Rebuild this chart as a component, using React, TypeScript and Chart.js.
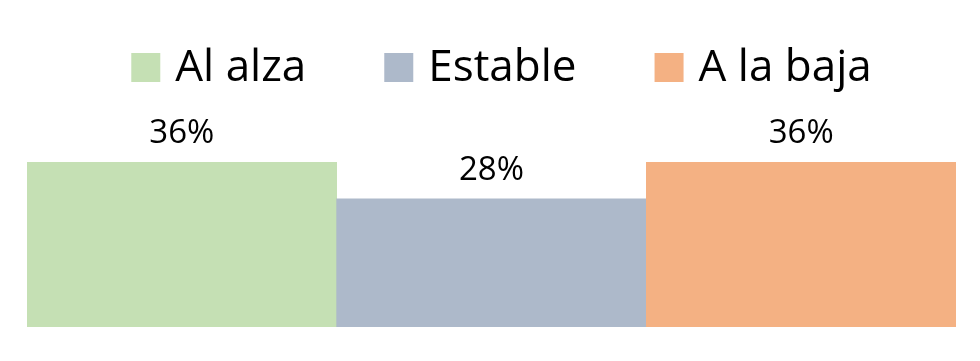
import React, { useEffect, useRef } from "react";
import { Chart, registerables } from "chart.js";

Chart.register(...registerables);

const categories = ["Al alza", "Estable", "A la baja"];
const values = [36, 28, 36];
const valueLabels = ["36%", "28%", "36%"];
const colors = ["#C5E0B4", "#ADB9CA", "#F4B183"];

const legendFont = "44px 'Open Sans', sans-serif";
const labelFont = "33px 'Open Sans', sans-serif";

const customLegend = {
  id: "customLegend",
  afterDraw(chart: any) {
    const ctx = chart.ctx;
    ctx.save();
    ctx.font = legendFont;
    const box = 29;
    const gapText = 15;
    const gapItem = 78;
    const widths = categories.map((c) => box + gapText + ctx.measureText(c).width);
    const total = widths.reduce((a, b) => a + b, 0) + gapItem * (categories.length - 1);
    let x = 493.5 - total / 2;
    const baseline = 73;
    categories.forEach((c, i) => {
      ctx.fillStyle = colors[i];
      ctx.fillRect(x, 45, box, box);
      ctx.fillStyle = "#000000";
      ctx.textBaseline = "alphabetic";
      ctx.textAlign = "left";
      ctx.fillText(c, x + box + gapText, baseline);
      x += widths[i] + gapItem;
    });
    ctx.restore();
  },
};

const valueLabelsPlugin = {
  id: "valueLabels",
  afterDatasetsDraw(chart: any) {
    const ctx = chart.ctx;
    const meta = chart.getDatasetMeta(0);
    ctx.save();
    ctx.font = labelFont;
    ctx.fillStyle = "#000000";
    ctx.textAlign = "center";
    ctx.textBaseline = "alphabetic";
    meta.data.forEach((bar: any, i: number) => {
      const { x, y } = bar.getProps(["x", "y"], true);
      ctx.fillText(valueLabels[i], x, y - 19);
    });
    ctx.restore();
  },
};

export default function App() {
  const ref = useRef<HTMLCanvasElement>(null);
  useEffect(() => {
    if (!ref.current) return;
    const chart = new Chart(ref.current, {
      type: "bar",
      data: {
        labels: categories,
        datasets: [
          {
            data: values,
            backgroundColor: colors,
            borderWidth: 0,
            categoryPercentage: 1,
            barPercentage: 1,
          },
        ],
      },
      options: {
        animation: false,
        responsive: true,
        maintainAspectRatio: false,
        layout: { padding: { top: 136, bottom: 26, left: 19, right: 16 } },
        plugins: { legend: { display: false }, tooltip: { enabled: false } },
        scales: {
          x: { display: false },
          y: { display: false, min: 0, max: 40 },
        },
      },
      plugins: [customLegend, valueLabelsPlugin],
    });
    return () => chart.destroy();
  }, []);
  return (
    <div style={{ width: 964, height: 345, position: "relative" }}>
      <canvas ref={ref} />
    </div>
  );
}
